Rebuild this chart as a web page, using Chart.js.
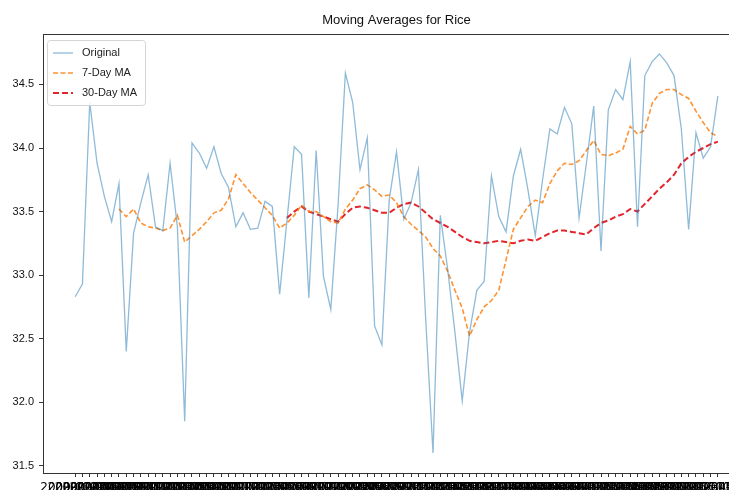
<!DOCTYPE html>
<html>
<head>
<meta charset="utf-8">
<title>Moving Averages for Rice</title>
<script src="https://cdn.jsdelivr.net/npm/chart.js@4.4.1/dist/chart.umd.min.js"></script>
<style>
  html, body { margin: 0; padding: 0; background: #fff; overflow: hidden; }
  #chart { position: absolute; left: 0; top: 0; }
</style>
</head>
<body>
<canvas id="chart" width="752" height="500"></canvas>
<script>
// x categories (one per observation, labels overlap like the original)
const dates = [
  '2009-01-01', '2009-02-01', '2009-03-01', '2009-04-01', '2009-05-01', '2009-06-01',
  '2009-07-01', '2009-08-01', '2009-09-01', '2009-10-01', '2009-11-01', '2009-12-01',
  '2010-01-01', '2010-02-01', '2010-03-01', '2010-04-01', '2010-05-01', '2010-06-01',
  '2010-07-01', '2010-08-01', '2010-09-01', '2010-10-01', '2010-11-01', '2010-12-01',
  '2011-01-01', '2011-02-01', '2011-03-01', '2011-04-01', '2011-05-01', '2011-06-01',
  '2011-07-01', '2011-08-01', '2011-09-01', '2011-10-01', '2011-11-01', '2011-12-01',
  '2012-01-01', '2012-02-01', '2012-03-01', '2012-04-01', '2012-05-01', '2012-06-01',
  '2012-07-01', '2012-08-01', '2012-09-01', '2012-10-01', '2012-11-01', '2012-12-01',
  '2013-01-01', '2013-02-01', '2013-03-01', '2013-04-01', '2013-05-01', '2013-06-01',
  '2013-07-01', '2013-08-01', '2013-09-01', '2013-10-01', '2013-11-01', '2013-12-01',
  '2014-01-01', '2014-02-01', '2014-03-01', '2014-04-01', '2014-05-01', '2014-06-01',
  '2014-07-01', '2014-08-01', '2014-09-01', '2014-10-01', '2014-11-01', '2014-12-01',
  '2015-01-01', '2015-02-01', '2015-03-01', '2015-04-01', '2015-05-01', '2015-06-01',
  '2015-07-01', '2015-08-01', '2015-09-01', '2015-10-01', '2015-11-01', '2015-12-01',
  '2016-01-01', '2016-02-01', '2016-03-01', '2016-04-01', '2016-05-01'
];

const original = [
  32.83, 32.93, 34.36, 33.88, 33.62, 33.42, 33.72, 32.40, 33.33, 33.57,
  33.79, 33.38, 33.35, 33.88, 33.38, 31.85, 34.04, 33.96, 33.84, 34.01,
  33.80, 33.69, 33.38, 33.49, 33.36, 33.37, 33.58, 33.54, 32.85, 33.43,
  34.01, 33.95, 32.82, 33.98, 32.99, 32.73, 33.55, 34.59, 34.36, 33.83,
  34.08, 32.60, 32.45, 33.59, 33.97, 33.44, 33.57, 33.83, 32.65, 31.60,
  33.47, 33.05, 32.55, 32.01, 32.55, 32.88, 32.95, 33.78, 33.46, 33.34,
  33.78, 33.99, 33.67, 33.31, 33.75, 34.15, 34.11, 34.32, 34.19, 33.45,
  33.88, 34.33, 33.19, 34.30, 34.46, 34.38, 34.68, 33.38, 34.57, 34.68,
  34.74, 34.67, 34.57, 34.15, 33.36, 34.12, 33.92, 34.01, 34.41
];

// 7-day MA, first value at index 6
const ma7Start = 6;
const ma7 = [
  33.52, 33.46, 33.52, 33.41, 33.38, 33.37, 33.35, 33.37, 33.47, 33.26,
  33.31, 33.36, 33.42, 33.49, 33.51, 33.60, 33.79, 33.72, 33.65, 33.59,
  33.53, 33.47, 33.37, 33.41, 33.47, 33.55, 33.50, 33.50, 33.46, 33.42,
  33.41, 33.52, 33.59, 33.68, 33.71, 33.67, 33.62, 33.63, 33.57, 33.46,
  33.40, 33.35, 33.30, 33.21, 33.15, 33.03, 32.88, 32.74, 32.52, 32.65,
  32.75, 32.80, 32.88, 33.12, 33.36, 33.45, 33.54, 33.59, 33.57, 33.72,
  33.82, 33.88, 33.87, 33.90, 33.98, 34.06, 33.95, 33.94, 33.96, 33.99,
  34.17, 34.11, 34.14, 34.35, 34.43, 34.46, 34.46, 34.42, 34.39, 34.29,
  34.20, 34.12, 34.09
];

// 30-day MA, first value at index 29
const ma30Start = 29;
const ma30 = [
  33.45, 33.50, 33.54, 33.50, 33.48, 33.46, 33.44, 33.42, 33.48, 33.53,
  33.54, 33.53, 33.51, 33.49, 33.49, 33.53, 33.56, 33.57, 33.54, 33.49,
  33.44, 33.41, 33.38, 33.34, 33.30, 33.27, 33.26, 33.25, 33.26, 33.27,
  33.26, 33.25, 33.27, 33.28, 33.27, 33.30, 33.33, 33.35, 33.35, 33.34,
  33.33, 33.32, 33.37, 33.41, 33.43, 33.46, 33.48, 33.52, 33.50, 33.56,
  33.62, 33.68, 33.73, 33.79, 33.88, 33.93, 33.97, 34.00, 34.03, 34.05
];

const yTicks = [31.5, 32.0, 32.5, 33.0, 33.5, 34.0, 34.5];

const toPoints = (values, start) => values.map((v, i) => ({ x: i + start, y: v }));

// matplotlib-like frame and legend box
const framePlugin = {
  id: 'frame',
  afterDatasetsDraw(chart) {
    const { ctx, chartArea: a } = chart;
    ctx.save();
    ctx.strokeStyle = '#333';
    ctx.lineWidth = 1;
    ctx.strokeRect(Math.round(a.left) + 0.5, Math.round(a.top) + 0.5, a.right - a.left, a.bottom - a.top);

    const x = a.left + 4, y = a.top + 6, w = 98, h = 65;
    ctx.beginPath();
    if (ctx.roundRect) ctx.roundRect(x + 0.5, y + 0.5, w, h, 3);
    else ctx.rect(x + 0.5, y + 0.5, w, h);
    ctx.fillStyle = 'rgba(255,255,255,0.8)';
    ctx.fill();
    ctx.strokeStyle = '#d4d4d4';
    ctx.stroke();

    chart.data.datasets.forEach((ds, i) => {
      const ly = y + 13 + i * 20;
      ctx.beginPath();
      ctx.setLineDash(ds.borderDash || []);
      ctx.strokeStyle = ds.borderColor;
      ctx.lineWidth = ds.borderWidth;
      ctx.moveTo(x + 6, ly);
      ctx.lineTo(x + 26, ly);
      ctx.stroke();
      ctx.setLineDash([]);
      ctx.fillStyle = '#222';
      ctx.font = '11px "Liberation Sans", Arial, sans-serif';
      ctx.textBaseline = 'middle';
      ctx.fillText(ds.label, x + 35, ly);
    });
    ctx.restore();
  }
};

Chart.defaults.font.family = '"Liberation Sans", Arial, sans-serif';

const tickGrid = { display: true, drawOnChartArea: false, drawTicks: true, tickLength: 4, color: '#333' };

new Chart(document.getElementById('chart'), {
  type: 'line',
  data: {
    datasets: [
      {
        label: 'Original',
        data: toPoints(original, 0),
        borderColor: 'rgba(31,119,180,0.5)',
        borderWidth: 1.3,
        pointRadius: 0,
        tension: 0
      },
      {
        label: '7-Day MA',
        data: toPoints(ma7, ma7Start),
        borderColor: 'rgba(255,127,14,0.85)',
        borderWidth: 1.6,
        borderDash: [5, 2.5],
        pointRadius: 0,
        tension: 0
      },
      {
        label: '30-Day MA',
        data: toPoints(ma30, ma30Start),
        borderColor: '#e3242b',
        borderWidth: 2,
        borderDash: [6, 3],
        pointRadius: 0,
        tension: 0
      }
    ]
  },
  options: {
    responsive: false,
    animation: false,
    layout: { padding: { left: 0, right: 2, top: 0, bottom: 0 } },
    plugins: {
      legend: { display: false },
      tooltip: { enabled: false },
      title: {
        display: true,
        fullSize: false,
        text: 'Moving Averages for Rice',
        color: '#111',
        font: { size: 13, weight: 'normal' },
        padding: { top: 12.4, bottom: 6 }
      }
    },
    scales: {
      x: {
        type: 'linear',
        min: -4.4,
        max: 92.4,
        afterBuildTicks: s => { s.ticks = dates.map((d, i) => ({ value: i })); },
        afterFit: s => { s.height = 27; s.paddingLeft = 0; s.paddingRight = 0; },
        grid: tickGrid,
        border: { display: false },
        ticks: {
          autoSkip: false,
          maxRotation: 0,
          minRotation: 0,
          padding: 4,
          color: '#000',
          font: { family: '"DejaVu Sans", sans-serif', size: 12 },
          callback: v => dates[v]
        }
      },
      y: {
        min: 31.443,
        max: 34.897,
        afterBuildTicks: s => { s.ticks = yTicks.map(v => ({ value: v })); },
        afterFit: s => { s.width = 43; },
        grid: tickGrid,
        border: { display: false },
        ticks: {
          padding: 5,
          color: '#111',
          font: { size: 11 },
          callback: v => v.toFixed(1)
        }
      }
    }
  },
  plugins: [framePlugin]
});
</script>
</body>
</html>
